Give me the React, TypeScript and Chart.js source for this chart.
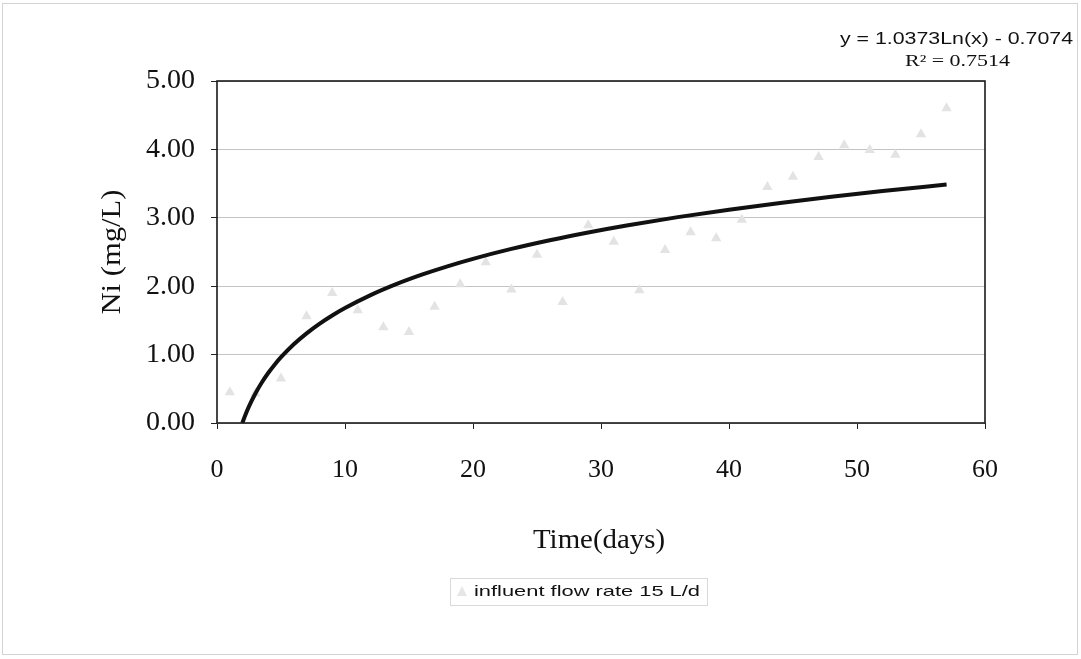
import React, { useEffect, useRef } from "react";
import { Chart, registerables } from "chart.js";

Chart.register(...registerables);

// Observed data: day vs Ni (mg/L)
const DAYS = [1, 3, 5, 7, 9, 11, 13, 15, 17, 19, 21, 23, 25, 27, 29, 31, 33, 35, 37, 39, 41, 43, 45, 47, 49, 51, 53, 55, 57];
const NI = [0.45, 0.43, 0.65, 1.56, 1.90, 1.65, 1.40, 1.33, 1.70, 2.03, 2.35, 1.95, 2.46, 1.77, 2.89, 2.65, 1.94, 2.53, 2.79, 2.70, 2.97, 3.45, 3.60, 3.89, 4.06, 3.99, 3.92, 4.22, 4.60];

// Logarithmic trendline as printed on the chart: y = A ln(x) + B
const TREND_A = 1.0373;
const TREND_B = -0.7074;
const TREND_X = [1.977, 2.2, 2.5, 3, 3.5, 4, 4.5, 5, 6, 7, 8, 9, 10, 12, 14, 16, 18, 20, 23, 26, 29, 32, 36, 40, 44, 48, 52, 57];

const Y_TICKS = [0, 1, 2, 3, 4, 5];
const X_TICKS = [0, 10, 20, 30, 40, 50, 60];

const EQUATION = "y = 1.0373Ln(x) - 0.7074";
const R2_TEXT = "R² = 0.7514";
const LEGEND_LABEL = "influent flow rate 15 L/d";
const X_TITLE = "Time(days)";
const Y_TITLE = "Ni (mg/L)";

function fitText(ctx: CanvasRenderingContext2D, text: string, x: number, y: number, font: string, width: number, align: "left" | "center" | "right") {
  ctx.save();
  ctx.font = font;
  const w = ctx.measureText(text).width;
  const left = align === "left" ? x : align === "center" ? x - width / 2 : x - width;
  ctx.translate(left, y);
  ctx.scale(width / w, 1);
  ctx.textAlign = "left";
  ctx.textBaseline = "middle";
  ctx.fillText(text, 0, 0);
  ctx.restore();
}

const decor = {
  id: "decor",
  beforeDraw(chart: any) {
    const ctx = chart.ctx as CanvasRenderingContext2D;
    ctx.save();
    ctx.fillStyle = "#ffffff";
    ctx.fillRect(0, 0, chart.width, chart.height);
    ctx.strokeStyle = "#d4d4d4";
    ctx.lineWidth = 1;
    ctx.strokeRect(2.5, 3.5, 1075, 651);
    ctx.restore();
  },
  afterDatasetsDraw(chart: any) {
    const ctx = chart.ctx as CanvasRenderingContext2D;
    const a = chart.chartArea;
    ctx.save();
    ctx.strokeStyle = "#1a1a1a";
    ctx.lineWidth = 1.6;
    ctx.strokeRect(a.left, a.top, a.right - a.left, a.bottom - a.top);
    ctx.restore();
  },
  afterDraw(chart: any) {
    const ctx = chart.ctx as CanvasRenderingContext2D;
    ctx.save();
    ctx.fillStyle = "#111111";
    // axis titles
    fitText(ctx, X_TITLE, 599, 541, "28px 'Liberation Serif'", 132, "center");
    ctx.save();
    ctx.translate(113, 252);
    ctx.rotate(-Math.PI / 2);
    fitText(ctx, Y_TITLE, 0, 0, "28px 'Liberation Serif'", 125, "center");
    ctx.restore();
    // equation
    fitText(ctx, EQUATION, 1073, 40, "16px 'Liberation Sans'", 233, "right");
    fitText(ctx, R2_TEXT, 1010, 62, "16px 'Liberation Serif'", 105, "right");
    // legend
    ctx.strokeStyle = "#d9d9d9";
    ctx.lineWidth = 1;
    ctx.strokeRect(450.5, 578.5, 257, 27);
    ctx.fillStyle = "#e6e6e6";
    ctx.beginPath();
    ctx.moveTo(462, 586);
    ctx.lineTo(467, 596);
    ctx.lineTo(457, 596);
    ctx.closePath();
    ctx.fill();
    ctx.fillStyle = "#111111";
    fitText(ctx, LEGEND_LABEL, 474, 592, "15px 'Liberation Sans'", 226, "left");
    ctx.restore();
  },
};

export default function App() {
  const ref = useRef<HTMLCanvasElement>(null);
  useEffect(() => {
    const points = DAYS.map((d, i) => ({ x: d, y: NI[i] }));
    const trend = TREND_X.map((x) => ({ x, y: TREND_A * Math.log(x) + TREND_B }));
    const chart = new Chart(ref.current!, {
      type: "scatter",
      data: {
        datasets: [
          {
            label: LEGEND_LABEL,
            data: points,
            pointStyle: "triangle",
            pointRadius: 6,
            pointBackgroundColor: "#e3e3e3",
            pointBorderColor: "#e3e3e3",
            pointBorderWidth: 0,
            showLine: false,
            order: 2,
          },
          {
            label: "trend",
            data: trend,
            showLine: true,
            borderColor: "#111111",
            borderWidth: 4,
            pointRadius: 0,
            cubicInterpolationMode: "monotone",
            order: 1,
          } as any,
        ],
      },
      options: {
        responsive: false,
        animation: false,
        layout: { padding: { left: 0, top: 81, right: 96, bottom: 0 } },
        plugins: { legend: { display: false }, tooltip: { enabled: false } },
        scales: {
          x: {
            type: "linear",
            min: 0,
            max: 60,
            afterFit: (s: any) => { s.height = 236; },
            afterBuildTicks: (s: any) => { s.ticks = X_TICKS.map((v) => ({ value: v })); },
            border: { display: false },
            grid: { drawOnChartArea: false, drawTicks: true, tickLength: 6, tickColor: "#222", tickWidth: 1 },
            ticks: { color: "#111", padding: 26, font: { family: "'Liberation Serif'", size: 26 }, maxRotation: 0 },
          },
          y: {
            type: "linear",
            min: 0,
            max: 5,
            afterFit: (s: any) => { s.width = 217; },
            afterBuildTicks: (s: any) => { s.ticks = Y_TICKS.map((v) => ({ value: v })); },
            border: { display: false },
            grid: { color: "#c4c4c4", lineWidth: 1, drawTicks: true, tickLength: 6, tickColor: "#222" },
            ticks: {
              color: "#111",
              padding: 16,
              font: { family: "'Liberation Serif'", size: 28 },
              callback: (v: any) => Number(v).toFixed(2),
            },
          },
        },
      },
      plugins: [decor],
    });
    return () => chart.destroy();
  }, []);
  return (
    <div style={{ position: "absolute", left: 0, top: 0, width: 1081, height: 659, background: "#fff" }}>
      <canvas ref={ref} width={1081} height={659} style={{ display: "block" }} />
    </div>
  );
}
